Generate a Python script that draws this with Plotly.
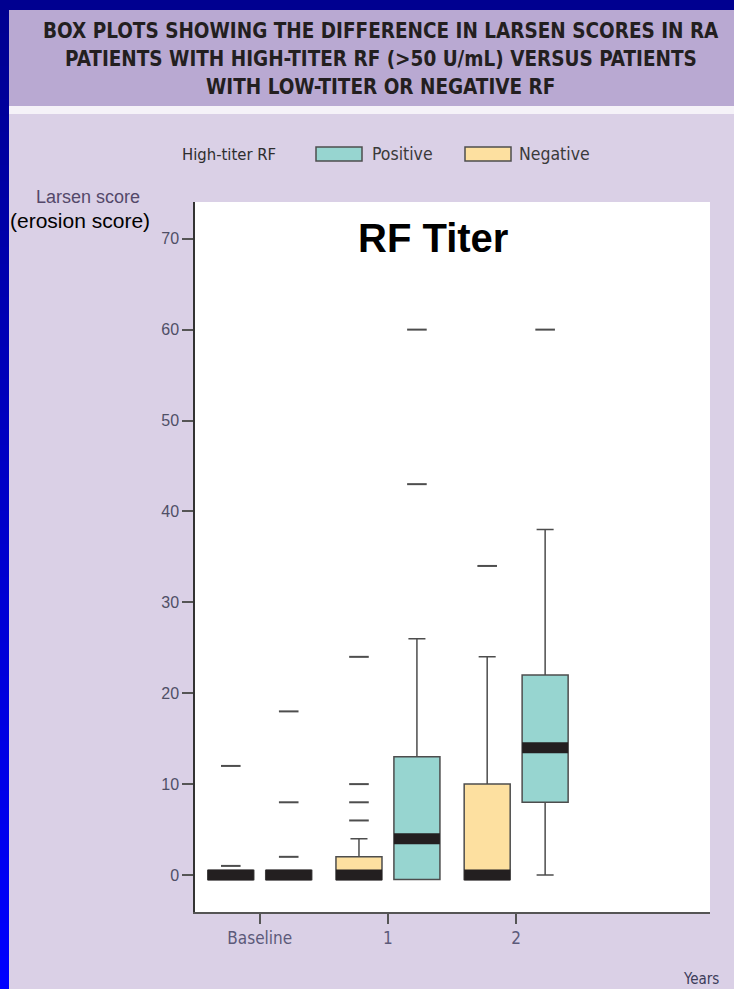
import plotly.graph_objects as go

W, H = 734, 989

# ---- data -------------------------------------------------------------
groups = ["Baseline", "1", "2"]
group_pos = [0, 1, 2]

# Low-titer or negative RF
neg_q1 = [-0.5, -0.5, -0.5]
neg_median = [0, 0, 0]
neg_q3 = [0.5, 2, 10]
neg_lower = [-0.5, -0.5, -0.5]
neg_upper = [0.5, 4, 24]
neg_outliers = [[1, 12], [6, 8, 10, 24], [34]]

# High-titer RF (>50 U/mL)
pos_q1 = [-0.5, -0.5, 8]
pos_median = [0, 4, 14]
pos_q3 = [0.5, 13, 22]
pos_lower = [-0.5, -0.5, 0]
pos_upper = [0.5, 26, 38]
pos_outliers = [[2, 8, 18], [43, 60], [60]]

y_ticks = [0, 10, 20, 30, 40, 50, 60, 70]

# ---- styling ----------------------------------------------------------
TEAL = "#97d5d0"
YELLOW = "#fde0a0"
EDGE = "#4d4d4d"
MEDIAN = "#231f20"
NARROW = "Liberation Sans Narrow, DejaVu Sans Condensed, Arial Narrow, sans-serif"
ARIAL = "Liberation Sans, Arial, sans-serif"

BOX_W = 0.359
OFFSET = 0.226


def px(x):
    return x / W


def py(y):
    return 1 - y / H


fig = go.Figure()

series = [
    (-OFFSET, YELLOW, neg_q1, neg_median, neg_q3, neg_lower, neg_upper, neg_outliers),
    (OFFSET, TEAL, pos_q1, pos_median, pos_q3, pos_lower, pos_upper, pos_outliers),
]

for off, color, q1, med, q3, lo, hi, outl in series:
    xs = [p + off for p in group_pos]
    fig.add_trace(go.Box(
        x=xs, q1=q1, median=med, q3=q3, lowerfence=lo, upperfence=hi,
        width=BOX_W, whiskerwidth=0.37, orientation="v",
        fillcolor=color, line=dict(color=EDGE, width=1.5),
        boxpoints=False, showlegend=False, hoverinfo="skip",
    ))

for off, color, q1, med, q3, lo, hi, outl in series:
    xs = [p + off for p in group_pos]
    # thick median bars
    mx, my = [], []
    for x, m in zip(xs, med):
        mx += [x - BOX_W / 2, x + BOX_W / 2, None]
        my += [m, m, None]
    fig.add_trace(go.Scatter(
        x=mx, y=my, mode="lines", line=dict(color=MEDIAN, width=11),
        showlegend=False, hoverinfo="skip",
    ))
    # outliers drawn as short dashes
    ox, oy = [], []
    for x, vals in zip(xs, outl):
        ox += [x] * len(vals)
        oy += vals
    fig.add_trace(go.Scatter(
        x=ox, y=oy, mode="markers",
        marker=dict(symbol="line-ew", size=14, line=dict(color=EDGE, width=2)),
        showlegend=False, hoverinfo="skip",
    ))

# ---- decorative frame -------------------------------------------------
shapes = []
steps = 60
for i in range(steps):
    t = i / (steps - 1)
    b = int(round(0x90 + (0xFF - 0x90) * t))
    y0 = H * i / steps
    y1 = H * (i + 1) / steps + 1
    shapes.append(dict(type="rect", xref="paper", yref="paper",
                       x0=0, x1=px(9), y0=py(y1), y1=py(y0),
                       fillcolor=f"rgb(0,0,{b})", line=dict(width=0), layer="below"))
shapes += [
    dict(type="rect", xref="paper", yref="paper", x0=0, x1=1, y0=py(10), y1=1,
         fillcolor="#000090", line=dict(width=0), layer="below"),
    dict(type="rect", xref="paper", yref="paper", x0=px(9), x1=1, y0=py(106), y1=py(10),
         fillcolor="#b9a9d2", line=dict(width=0), layer="below"),
    dict(type="rect", xref="paper", yref="paper", x0=px(9), x1=1, y0=py(114), y1=py(106),
         fillcolor="#f5f2f8", line=dict(width=0), layer="below"),
    # legend swatches
    dict(type="rect", xref="paper", yref="paper", x0=px(316), x1=px(362), y0=py(161), y1=py(147),
         fillcolor=TEAL, line=dict(color=EDGE, width=1.5)),
    dict(type="rect", xref="paper", yref="paper", x0=px(465), x1=px(511), y0=py(161), y1=py(147),
         fillcolor=YELLOW, line=dict(color=EDGE, width=1.5)),
]

title_lines = [
    "BOX PLOTS SHOWING THE DIFFERENCE IN LARSEN SCORES IN RA",
    "PATIENTS WITH HIGH-TITER RF (>50 U/mL) VERSUS PATIENTS",
    "WITH LOW-TITER OR NEGATIVE RF",
]
annotations = []
for i, line in enumerate(title_lines):
    annotations.append(dict(
        text=f"<b>{line}</b>", xref="paper", yref="paper",
        x=px(381), y=py(31 + 28 * i), xanchor="center", yanchor="middle",
        showarrow=False, font=dict(family=NARROW, size=20.5, color="#231f20"),
    ))


def label(text, x, y, size, color, family=NARROW, xanchor="left"):
    annotations.append(dict(
        text=text, xref="paper", yref="paper", x=px(x), y=py(y),
        xanchor=xanchor, yanchor="middle", showarrow=False,
        font=dict(family=family, size=size, color=color),
    ))


label("High-titer RF", 278, 154, 16.5, "#2e2e2e", xanchor="right")
label("Positive", 370, 154, 17.5, "#3a3a3a")
label("Negative", 517, 154, 17.5, "#3a3a3a")
label("Larsen score", 88, 197, 18, "#54486a", family=ARIAL, xanchor="center")
label("(erosion score)", 8, 221, 21, "#000000", family=ARIAL)
label("<b>RF Titer</b>", 433, 238, 40, "#000000", family=ARIAL, xanchor="center")
label("Years", 721, 979, 15, "#3c3c5a", xanchor="right")

fig.update_layout(
    width=W, height=H,
    margin=dict(l=0, r=0, t=0, b=0),
    paper_bgcolor="#dad0e6",
    plot_bgcolor="#ffffff",
    shapes=shapes,
    annotations=annotations,
    xaxis=dict(
        domain=[px(195), px(710)], range=[-0.505, 3.512],
        tickvals=group_pos, ticktext=groups,
        ticks="outside", ticklen=10, tickwidth=1.5, tickcolor="#555555",
        showline=True, linecolor="#555555", linewidth=1.5,
        showgrid=False, zeroline=False,
        tickfont=dict(family=NARROW, size=17, color="#5c5a7a"),
    ),
    yaxis=dict(
        domain=[py(912), py(202)], range=[-4.07, 74.04],
        tickvals=y_ticks, ticks="outside", ticklen=11, tickwidth=1.5,
        tickcolor="#555555", showline=True, linecolor="#333333", linewidth=1.5,
        showgrid=False, zeroline=False,
        tickfont=dict(family=ARIAL, size=16, color="#4f4f66"),
    ),
)

fig.write_html("out.html")
